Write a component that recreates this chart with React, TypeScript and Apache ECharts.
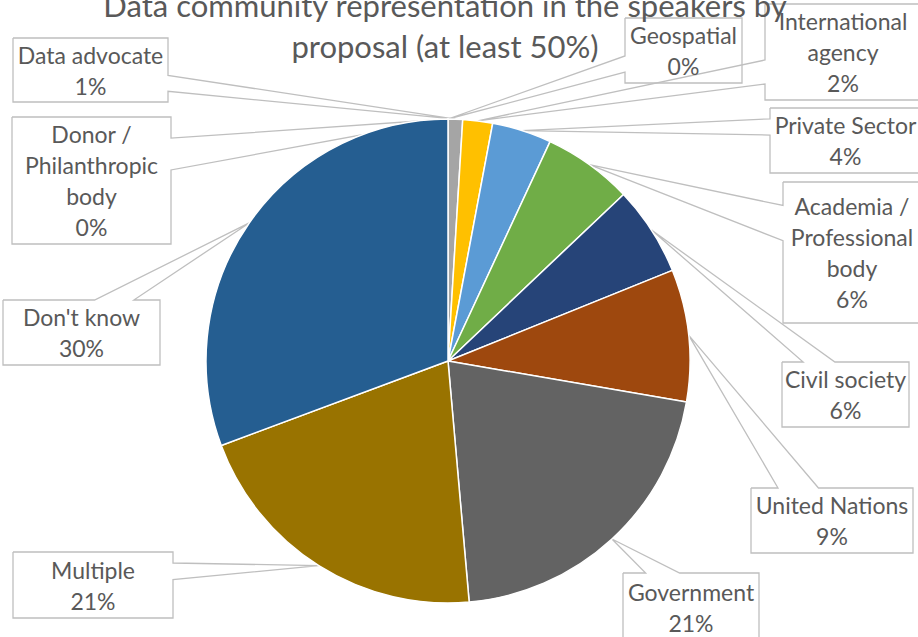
import React, { useEffect, useRef } from "react";
import * as echarts from "echarts";

// ---- data ----
const categories = [
  "Donor /\nPhilanthropic\nbody",
  "Geospatial",
  "Data advocate",
  "International\nagency",
  "Private Sector",
  "Academia /\nProfessional\nbody",
  "Civil society",
  "United Nations",
  "Government",
  "Multiple",
  "Don't know",
];
const shares = [0, 0, 0.97, 1.99, 3.97, 5.99, 5.97, 8.82, 20.9, 20.72, 30.68];
const titleLines = ["Data community representation in the speakers by", "proposal (at least 50%)"];

// ---- styles / layout ----
const colors = [
  "#4472C4", "#ED7D31", "#A5A5A5", "#FFC000", "#5B9BD5", "#70AD47",
  "#264478", "#9E480E", "#636363", "#997300", "#255E91",
];
// callout boxes [x, y, w, h]
const labelBoxes = [
  [12, 117, 159, 127],
  [625, 18, 117, 65],
  [13, 38, 155, 64],
  [765, 4, 156, 96],
  [770, 108, 151, 65],
  [783, 182, 138, 141],
  [782, 362, 127, 65],
  [751, 488, 162, 65],
  [623, 573, 136, 68],
  [13, 552, 160, 66],
  [3, 300, 157, 65],
];
const CX = 448;
const CY = 361;
const R = 242;
const FONT = "Lato, 'Open Sans', sans-serif";
const TEXT = "#595959";

function sliceTip(i: number): [number, number] {
  const total = shares.reduce((a, b) => a + b, 0);
  let cum = 0;
  for (let k = 0; k < i; k++) cum += shares[k];
  const mid = ((cum + shares[i] / 2) / total) * Math.PI * 2;
  return [CX + R * Math.sin(mid), CY - R * Math.cos(mid)];
}

function callout(box: number[], tip: [number, number]): number[][] {
  const [x, y, w, h] = box;
  const [tx, ty] = tip;
  const dx = tx - (x + w / 2);
  const dy = ty - (y + h / 2);
  const dq = (dx * h) / w;
  const r = x + w;
  const b = y + h;
  if (Math.abs(dy) - Math.abs(dq) > 0) {
    const xa = x + (w * (dx > 0 ? 7 : 2)) / 12;
    const xb = x + (w * (dx > 0 ? 10 : 5)) / 12;
    if (dy < 0) {
      return [[x, y], [xa, y], [tx, ty], [xb, y], [r, y], [r, b], [x, b], [x, y]];
    }
    return [[x, y], [r, y], [r, b], [xb, b], [tx, ty], [xa, b], [x, b], [x, y]];
  }
  const ya = y + (h * (dy > 0 ? 7 : 2)) / 12;
  const yb = y + (h * (dy > 0 ? 10 : 5)) / 12;
  if (dx < 0) {
    return [[x, y], [r, y], [r, b], [x, b], [x, yb], [tx, ty], [x, ya], [x, y]];
  }
  return [[x, y], [r, y], [r, ya], [tx, ty], [r, yb], [r, b], [x, b], [x, y]];
}

export default function App() {
  const ref = useRef<HTMLDivElement>(null);

  useEffect(() => {
    if (!ref.current) return;
    const chart = echarts.init(ref.current, undefined, { renderer: "svg" });
    chart.setOption({
      animation: false,
      backgroundColor: "#ffffff",
      graphic: [
        {
          type: "text",
          x: 445,
          y: -16,
          z: 10,
          style: {
            text: titleLines.join("\n"),
            align: "center",
            verticalAlign: "top",
            fontSize: 31,
            lineHeight: 41,
            fontFamily: FONT,
            fill: TEXT,
          },
        },
      ],
      series: [
        {
          type: "pie",
          center: [CX, CY],
          radius: R,
          startAngle: 90,
          clockwise: true,
          avoidLabelOverlap: false,
          percentPrecision: 0,
          minShowLabelAngle: 0,
          itemStyle: { borderColor: "#ffffff", borderWidth: 1.5 },
          emphasis: { disabled: true },
          label: {
            show: true,
            position: "outside",
            formatter: "{b}\n{d}%",
            color: TEXT,
            fontFamily: FONT,
            fontSize: 23,
            lineHeight: 31,
            align: "center",
            overflow: "none",
          },
          labelLine: {
            show: true,
            length: 8,
            length2: 8,
            smooth: false,
            lineStyle: { color: "#BFBFBF", width: 1.3 },
          },
          labelLayout: (params: any) => {
            const i = params.dataIndex;
            const box = labelBoxes[i];
            return {
              x: box[0] + box[2] / 2,
              y: box[1] + box[3] / 2,
              align: "center",
              verticalAlign: "middle",
              labelLinePoints: callout(box, sliceTip(i)),
            };
          },
          data: categories.map((name, i) => ({
            name,
            value: shares[i],
            itemStyle: { color: colors[i] },
          })),
        },
      ],
    });
    return () => chart.dispose();
  }, []);

  return (
    <div
      ref={ref}
      style={{ position: "fixed", left: 0, top: 0, width: 918, height: 637 }}
    />
  );
}
